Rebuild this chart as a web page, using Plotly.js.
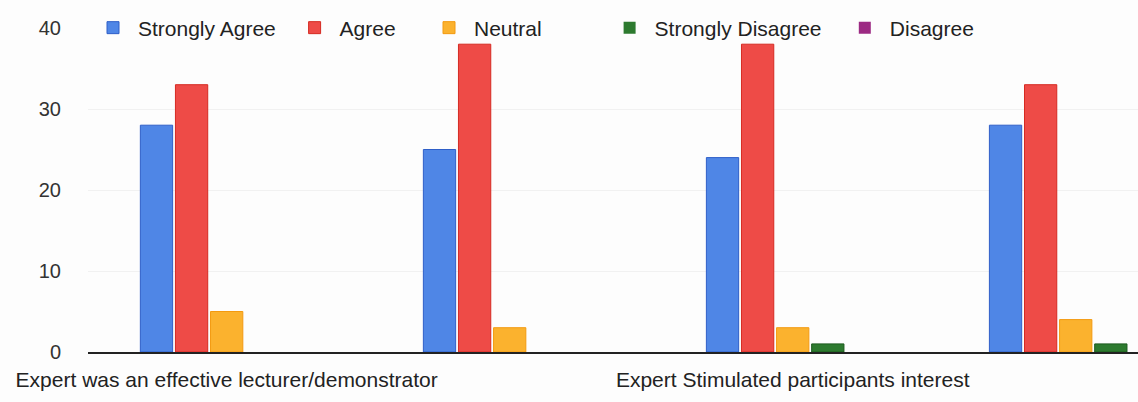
<!DOCTYPE html>
<html>
<head>
<meta charset="utf-8">
<script src="https://cdn.plot.ly/plotly-3.0.1.min.js"></script>
<style>
  html, body { margin: 0; padding: 0; background: #fdfdfd; }
  #chart { width: 1138px; height: 402px; }
</style>
</head>
<body>
<div id="chart"></div>
<script>
// Category positions and tick labels (only alternate labels are shown in the reference)
const categoryPositions = [0, 1, 2, 3];
const tickPositions = [0, 2];
const tickLabels = ["Expert was an effective lecturer/demonstrator", "Expert Stimulated participants interest"];

// Series values
const seriesNames = ["Strongly Agree", "Agree", "Neutral", "Strongly Disagree", "Disagree"];
const stronglyAgree = [28, 25, 24, 28];
const agree = [33, 38, 38, 33];
const neutral = [5, 3, 3, 4];
const stronglyDisagree = [0, 0, 1, 1];
const disagree = [0, 0, 0, 0];

const seriesValues = [stronglyAgree, agree, neutral, stronglyDisagree, disagree];
const fillColors = ["#4f86e6", "#ee4b47", "#fbb22e", "#2d7a2f", "#9c2a83"];
const edgeColors = ["#2f5fc8", "#d62a22", "#f39a10", "#1b5a1d", "#7a1665"];
const legendIds = ["legend", "legend2", "legend3", "legend4", "legend5"];
const legendX = [0.0, 0.192, 0.32, 0.492, 0.716];

const traces = seriesValues.map((vals, i) => ({
  type: "bar",
  name: seriesNames[i],
  x: categoryPositions,
  y: vals,
  marker: { color: fillColors[i], line: { color: edgeColors[i], width: vals.map(v => (v > 0 ? 1 : 0)) } },
  legend: legendIds[i],
  hoverinfo: "name+y"
}));

const legendFont = { family: "Liberation Sans, Arial, sans-serif", size: 21, color: "#222" };
const layout = {
  width: 1138,
  height: 402,
  paper_bgcolor: "#fdfdfd",
  plot_bgcolor: "#fdfdfd",
  margin: { l: 88, r: 0, t: 28, b: 50 },
  barmode: "group",
  bargap: 0.38,
  bargroupgap: 0.08,
  font: { family: "Liberation Sans, Arial, sans-serif", size: 21, color: "#222" },
  xaxis: {
    range: [-0.49, 3.22],
    tickmode: "array",
    tickvals: tickPositions,
    ticktext: tickLabels,
    showgrid: false,
    zeroline: false,
    showline: true,
    linecolor: "#222",
    linewidth: 2,
    ticks: "",
    ticklabelstandoff: 8,
    tickfont: { size: 21, color: "#222" }
  },
  yaxis: {
    range: [0, 40],
    tickvals: [0, 10, 20, 30, 40],
    showgrid: true,
    gridcolor: "#f1f1f1",
    zeroline: false,
    showline: false,
    ticks: "",
    ticklabelstandoff: 26,
    tickfont: { size: 20, color: "#333" }
  },
  showlegend: true
};
legendIds.forEach((id, i) => {
  layout[id] = {
    orientation: "h",
    x: legendX[i],
    xanchor: "left",
    y: 1.0,
    yanchor: "middle",
    bgcolor: "rgba(0,0,0,0)",
    font: legendFont,
    itemwidth: 40
  };
});

Plotly.newPlot("chart", traces, layout, { displayModeBar: false, staticPlot: true });
</script>
</body>
</html>
